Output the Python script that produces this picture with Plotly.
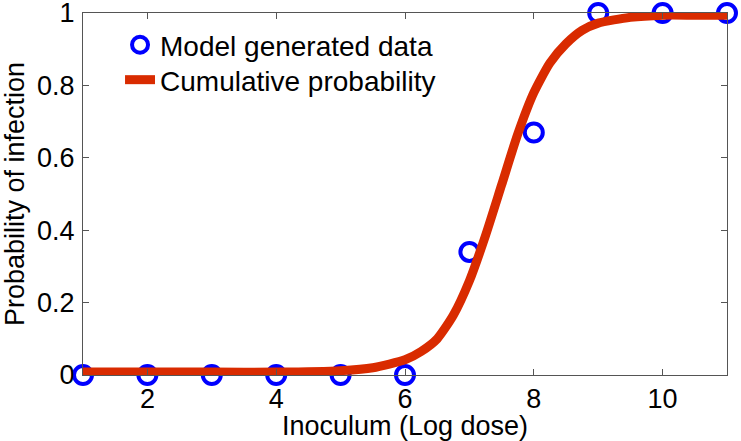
import plotly.graph_objects as go

# Model generated data (observed points)
dose_points = [1, 2, 3, 4, 5, 6, 7, 8, 9, 10, 11]
prob_points = [0, 0, 0, 0, 0, 0, 0.34, 0.67, 1, 1, 1]

# Cumulative probability curve
dose_curve = [1, 2, 3, 4, 5, 5.5, 6, 6.25, 6.5, 6.75, 7, 7.25, 7.5, 7.75,
              8, 8.25, 8.5, 8.75, 9, 9.5, 10, 10.5, 11]
prob_curve = [0.008, 0.008, 0.008, 0.008, 0.012, 0.02, 0.042, 0.065, 0.1,
              0.165, 0.26, 0.385, 0.525, 0.665, 0.78, 0.862, 0.915, 0.952,
              0.972, 0.988, 0.994, 0.994, 0.994]

x_ticks = [2, 4, 6, 8, 10]
y_ticks = [0, 0.2, 0.4, 0.6, 0.8, 1]
y_tick_labels = ["0", "0.2", "0.4", "0.6", "0.8", "1"]

FONT = "Liberation Sans, Arial, Helvetica, sans-serif"
AXIS_COLOR = "#555555"

fig = go.Figure()
fig.add_trace(go.Scatter(
    x=dose_points, y=prob_points, mode="markers",
    name="Model generated data", legend="legend",
    marker=dict(symbol="circle-open", size=18, color="#0000FF",
                line=dict(width=4, color="#0000FF")),
    cliponaxis=False,
))
fig.add_trace(go.Scatter(
    x=dose_curve, y=prob_curve, mode="lines",
    name="Cumulative probability", legend="legend2",
    line=dict(color="#D92B00", width=9, shape="spline", smoothing=0.6),
    cliponaxis=False,
))

legend_common = dict(
    xanchor="left", yanchor="middle",
    bgcolor="rgba(0,0,0,0)", borderwidth=0,
    font=dict(family=FONT, size=28, color="black"),
)

fig.update_layout(
    width=741, height=441,
    margin=dict(l=83, r=14, t=13, b=66, autoexpand=False),
    paper_bgcolor="white", plot_bgcolor="white",
    font=dict(family=FONT, size=27, color="black"),
    showlegend=True,
    legend=dict(x=0.0575, y=0.9116, **legend_common),
    legend2=dict(x=0.0575, y=0.815, **legend_common),
    xaxis=dict(
        range=[1, 11], tickvals=x_ticks, ticks="inside", ticklen=6,
        tickcolor=AXIS_COLOR, showline=True, linecolor=AXIS_COLOR,
        linewidth=1, mirror="ticks", showgrid=False, zeroline=False,
        automargin=False, ticklabeloverflow="allow",
        tickfont=dict(family=FONT, size=27),
        title=dict(text="Inoculum (Log dose)",
                   font=dict(family=FONT, size=27)),
    ),
    yaxis=dict(
        range=[0, 1], tickvals=y_ticks, ticktext=y_tick_labels,
        ticks="inside", ticklen=6,
        tickcolor=AXIS_COLOR, showline=True, linecolor=AXIS_COLOR,
        linewidth=1, mirror="ticks", showgrid=False, zeroline=False,
        automargin=False, ticklabeloverflow="allow",
        tickfont=dict(family=FONT, size=27),
        ticklabelstandoff=2,
        title=dict(text="Probability of infection",
                   font=dict(family=FONT, size=27)),
    ),
)

fig.write_html("out.html", config={"displayModeBar": False},
               post_script="document.body.style.margin='0';")
